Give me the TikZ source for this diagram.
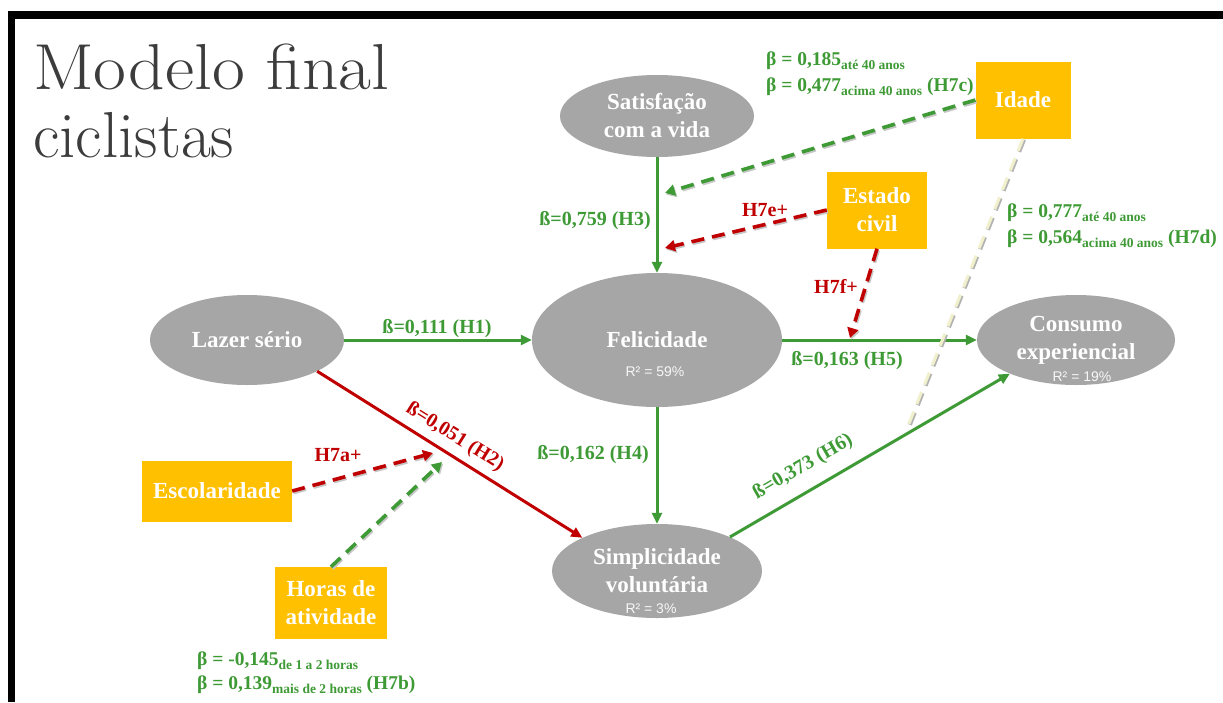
\documentclass[tikz,border=0pt]{standalone}
\usepackage{fontspec}
\newfontfamily\labfont{Liberation Serif}
\newfontfamily\rfont{Liberation Sans}
\usetikzlibrary{shapes.geometric,arrows.meta}

\definecolor{ovalgray}{HTML}{A6A6A6}
\definecolor{modorange}{HTML}{FFC000}
\definecolor{pathgreen}{HTML}{3E9A35}
\definecolor{pathred}{HTML}{C00000}
\definecolor{titlegray}{HTML}{3C3C3C}
\definecolor{paleyellow}{HTML}{F1F0CC}

% font helpers
\newcommand\constructfont{\labfont\bfseries\fontsize{23}{28}\selectfont}
\newcommand\pathlabfont{\labfont\bfseries\fontsize{20}{22}\selectfont}
\newcommand\coeffont{\labfont\bfseries\fontsize{19.5}{20}\selectfont}
\newcommand\rsqfont{\rfont\fontsize{14}{15}\selectfont}
\newcommand\titlefont{\rmfamily\fontsize{65}{68}\selectfont}
\newcommand\grp[1]{\raisebox{-4pt}{\fontsize{13.5}{14}\selectfont #1}}

\tikzset{
  construct/.style={ellipse, fill=ovalgray, inner sep=0pt, text=white,
    font=\constructfont, align=center},
  modbox/.style={rectangle, fill=modorange, inner sep=0pt, text=white,
    font=\constructfont, align=center},
  effect/.style={line width=3pt, -{Triangle[length=11pt,width=10pt]}},
  moderation/.style={line width=3.6pt, dash pattern=on 13pt off 8pt,
    -{Triangle[length=10pt,width=11pt]},
    preaction={draw=black!22, line width=3.6pt, dash pattern=on 13pt off 8pt,
      -{Triangle[length=10pt,width=11pt]},
      transform canvas={shift={(1.2pt,-1.6pt)}}}},
  pathlab/.style={font=\pathlabfont, inner sep=0pt},
  coef/.style={font=\coeffont, text=pathgreen, anchor=base west, inner sep=0pt},
  rsq/.style={font=\rsqfont, text=white!94!gray, inner sep=0pt},
  titletext/.style={anchor=base west, inner sep=0pt, text=titlegray, font=\titlefont}
}

\begin{document}
\begin{tikzpicture}[x=1pt, y=-1pt]
  \useasboundingbox (0,0) rectangle (1223,702);
  \fill[white] (0,0) rectangle (1223,702);

  % slide frame
  \fill[black] (8,11) rectangle (1223,19);
  \fill[black] (8,11) rectangle (15,702);

  % title
  \node[titletext, xscale=1.1] (t1) at (33,89) {Modelo final};
  \node[titletext] (t2) at (33,157) {ciclistas};

  % latent constructs
  \node[construct, minimum width=194pt, minimum height=82pt] (sat) at (657,116) {Satisfação\\com a vida};
  \node[construct, minimum width=250pt, minimum height=134pt] (fel) at (657,340) {Felicidade};
  \node[construct, minimum width=194pt, minimum height=90pt] (laz) at (247,340) {Lazer sério};
  \node[construct, minimum width=198pt, minimum height=90pt] (con) at (1076,340) {Consumo\\experiencial};
  \node[construct, minimum width=210pt, minimum height=94pt] (sim) at (657,571) {Simplicidade\\voluntária};

  \node[rsq] (r1) at (655,372) {R² = 59\%};
  \node[rsq] (r2) at (1082,377) {R² = 19\%};
  \node[rsq] (r3) at (651,609) {R² = 3\%};

  % moderators
  \node[modbox, minimum width=95pt, minimum height=77pt] (ida) at (1023,100) {Idade};
  \node[modbox, minimum width=100pt, minimum height=77pt] (est) at (877,210) {Estado\\civil};
  \node[modbox, minimum width=150pt, minimum height=61pt] (esc) at (217,491) {Escolaridade};
  \node[modbox, minimum width=112pt, minimum height=72pt] (hor) at (331,603) {Horas de\\atividade};

  % structural paths
  \draw[effect, pathgreen] (laz) -- (fel);
  \draw[effect, pathred] (laz.336) -- (sim.156);
  \draw[effect, pathgreen] (sat) -- (fel);
  \draw[effect, pathgreen] (fel) -- (sim);
  \draw[effect, pathgreen] (fel) -- (con);
  \draw[effect, pathgreen] (sim.25) -- (con.207);

  % points on the paths hit by moderators
  \coordinate (m3a) at (665,193);
  \coordinate (m3b) at (665,248);
  \coordinate (m5) at (850,338);
  \coordinate (m2a) at (433,453);
  \coordinate (m2b) at (442,462);
  \coordinate (m6) at (906,431);

  % moderation effects
  \draw[moderation, pathgreen] (ida.west) -- (m3a);
  \draw[moderation, pathred] (est.west) -- (m3b);
  \draw[moderation, pathred] (est.south) -- (m5);
  \draw[moderation, pathred] (esc.east) -- (m2a);
  \draw[moderation, pathgreen] (hor.north) -- (m2b);
  \draw[line width=4pt, black!30, dash pattern=on 13pt off 8pt,
    transform canvas={shift={(1pt,-1pt)}}] (ida.south) -- (m6);
  \draw[line width=3pt, paleyellow, dash pattern=on 13pt off 8pt] (ida.south) -- (m6);

  % path coefficients
  \node[pathlab, text=pathgreen] (l1) at (437,329) {ß=0,111 (H1)};
  \node[pathlab, text=pathred, rotate=-32] (l2) at (455,437) {ß=0,051 (H2)};
  \node[pathlab, text=pathgreen] (l3) at (595,221) {ß=0,759 (H3)};
  \node[pathlab, text=pathgreen] (l4) at (593,455) {ß=0,162 (H4)};
  \node[pathlab, text=pathgreen] (l5) at (847,361) {ß=0,163 (H5)};
  \node[pathlab, text=pathgreen, rotate=30] (l6) at (803,467) {ß=0,373 (H6)};
  \node[pathlab, text=pathred] (h7e) at (765,210) {H7e+};
  \node[pathlab, text=pathred] (h7f) at (836,286) {H7f+};
  \node[pathlab, text=pathred] (h7a) at (338,455) {H7a+};

  % group coefficients
  \node[coef] (c1) at (766,65) {β = 0,185\grp{até 40 anos}};
  \node[coef] (c2) at (766,91) {β = 0,477\grp{acima 40 anos} (H7c)};
  \node[coef] (c3) at (1007,217) {β = 0,777\grp{até 40 anos}};
  \node[coef] (c4) at (1007,243) {β = 0,564\grp{acima 40 anos} (H7d)};
  \node[coef] (c5) at (197,665) {β = -0,145\grp{de 1 a 2 horas}};
  \node[coef] (c6) at (197,689) {β = 0,139\grp{mais de 2 horas} (H7b)};
\end{tikzpicture}
\end{document}
